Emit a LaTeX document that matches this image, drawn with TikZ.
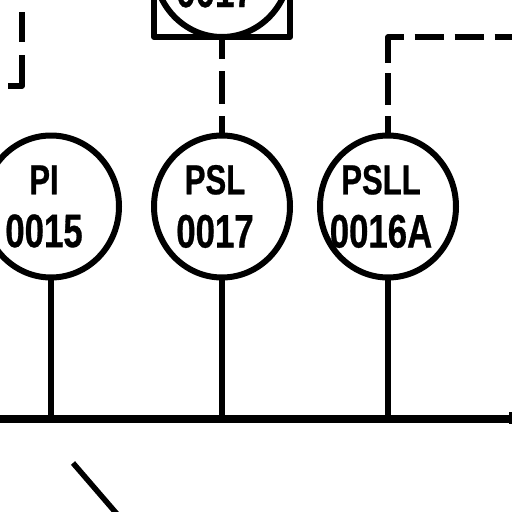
\documentclass[tikz,border=0pt]{standalone}
\usepackage{fontspec}
\newfontfamily\tagfont[FakeStretch=0.74,FakeBold=0.6]{Liberation Sans}
\usetikzlibrary{fit,positioning,shapes.geometric}
\newcommand{\tagtext}[2]{\fontsize{42}{42}\selectfont #1\hspace*{14pt}\\[19pt]\fontsize{47}{47}\selectfont #2\hspace*{14pt}}
\begin{document}
\begin{tikzpicture}[x=1pt, y=1pt]
		\tikzstyle{main}=[ellipse, minimum width=136pt, minimum height=142pt, inner sep=-30pt, outer sep=0pt, line width=6pt, draw=black, align=center, font=\tagfont\bfseries]
		\tikzstyle{connect}=[line width=5.5pt]
		\tikzstyle{dashline}=[line width=5.5pt, line join=round]
		\tikzstyle{box}=[rectangle, inner sep=0pt, outer sep=0pt, line width=6pt, line join=round, draw=black]
		\clip (0,0) rectangle (512,-512);
		\node[main] (pi) at (51,-206.5) {\tagtext{PI}{0015}};
		\node[main] (psl) [right =35pt of pi] {\tagtext{PSL}{0017}};
		\node[main] (psll) [right =30pt of psl] {\tagtext{PSLL}{0016A}};
		\node[main] (psl_up) at (222,34) {\tagtext{PSL}{0017}};
		\node[box, fit= (psl_up)] (tagbox) {};
		\coordinate (bus_l) at (0,-419);
		\coordinate (bus_r) at (512,-419);
		\coordinate (end_t) at (510.5,-412);
		\coordinate (end_b) at (510.5,-424);
		\coordinate (dash_r) at (512,-37);
		\coordinate (left_t) at (22,-12);
		\coordinate (left_e) at (8,-86);
		\coordinate (diag_a) at (73,-463);
		\coordinate (diag_b) at (117,-514);
		\draw[line width=7.5pt] (bus_l) -- (bus_r);
		\draw[line width=3pt] (end_t) -- (end_b);
		\path 
		(pi.south) edge [connect] (pi |- bus_l)
		(psl.south) edge [connect] (psl |- bus_l)
		(psll.south) edge [connect] (psll |- bus_l)
		(diag_a) edge [connect] (diag_b)
		;
		\draw[dashline, dash pattern=on 20pt off 12pt on 33pt off 12pt on 30pt] (psl.north) -- (tagbox.south);
		\draw[dashline, dash pattern=on 20pt off 11pt on 32pt off 10pt on 41pt off 11pt on 29pt off 11pt on 29pt off 11pt on 29pt off 11pt] (psll.north) |- (dash_r);
		\draw[dashline, dash pattern=on 30pt off 13pt on 48pt] (left_t) |- (left_e);
	\end{tikzpicture}
\end{document}
